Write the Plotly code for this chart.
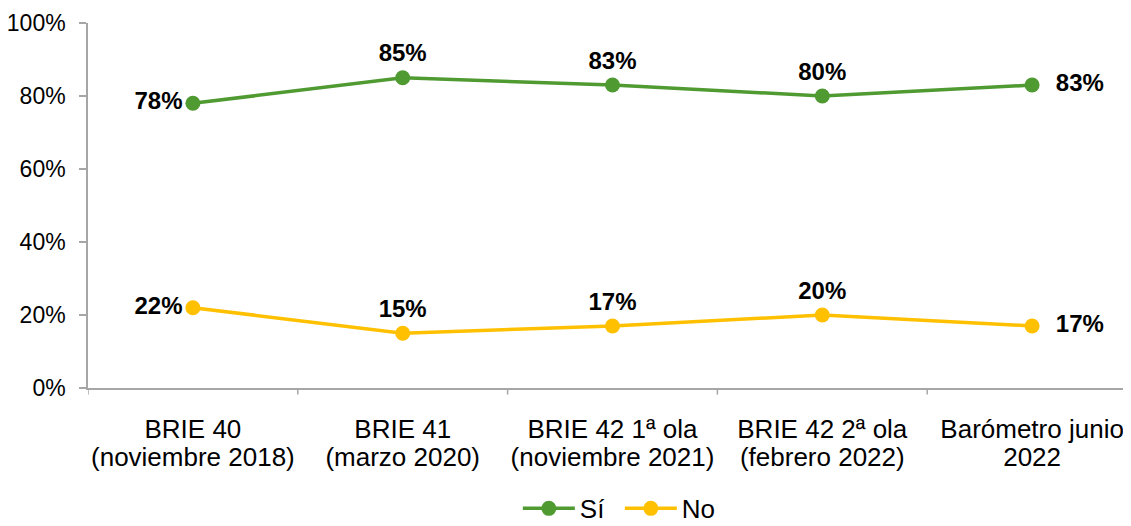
import plotly.graph_objects as go

categories_line1 = ["BRIE 40", "BRIE 41", "BRIE 42 1ª ola", "BRIE 42 2ª ola", "Barómetro junio"]
categories_line2 = ["(noviembre 2018)", "(marzo 2020)", "(noviembre 2021)", "(febrero 2022)", "2022"]
si_values = [78, 85, 83, 80, 83]
no_values = [22, 15, 17, 20, 17]
y_ticks = [0, 20, 40, 60, 80, 100]

positions = ["middle left", "top center", "top center", "top center", "middle right"]
FONT = "Liberation Sans, Arial, sans-serif"
NB = "\u00a0"


def label(v, pos):
    t = f"{v}%"
    if pos == "middle right":
        return NB * 2 + t
    return t


x = list(range(len(categories_line1)))
fig = go.Figure()
for name, vals, color in [("Sí", si_values, "#4f9a31"), ("No", no_values, "#ffc000")]:
    fig.add_trace(go.Scatter(
        x=x, y=vals, name=name, mode="lines+markers+text",
        line=dict(color=color, width=3.5),
        marker=dict(color=color, size=15),
        text=[label(v, p) for v, p in zip(vals, positions)], textposition=positions,
        textfont=dict(family=FONT, size=24, color="#000000", weight="bold"),
        cliponaxis=False,
    ))
# invisible trace to activate the second-line category axis
fig.add_trace(go.Scatter(x=x, y=si_values, xaxis="x2", mode="markers",
                         marker=dict(opacity=0), showlegend=False, hoverinfo="skip"))

fig.update_layout(
    width=1131, height=526,
    margin=dict(l=80, r=2, t=15, b=140),
    plot_bgcolor="white", paper_bgcolor="white",
    font=dict(family=FONT, size=22, color="#000000"),
    showlegend=True,
    legend=dict(orientation="h", x=0.507, xanchor="center", y=-0.33, yanchor="middle",
                font=dict(size=26), traceorder="normal", itemwidth=52,
                entrywidth=35, entrywidthmode="pixels"),
    xaxis=dict(
        range=[-0.5, 4.5], tickmode="array", tickvals=x, ticktext=categories_line1,
        showgrid=False, zeroline=False, showline=True, linecolor="#a6a6a6", linewidth=1.5,
        ticks="", tickfont=dict(size=26), automargin=False, ticklabelstandoff=17,
    ),
    xaxis2=dict(
        range=[-0.5, 4.5], tickmode="array", tickvals=x, ticktext=categories_line2,
        overlaying="x", side="bottom", anchor="free", position=0,
        showgrid=False, zeroline=False, showline=False,
        ticks="", tickfont=dict(size=26), automargin=False, ticklabelstandoff=51,
    ),
    yaxis=dict(
        range=[0, 100], tickmode="array", tickvals=y_ticks, ticktext=[f"{t}%" for t in y_ticks],
        showgrid=False, zeroline=False, showline=True, linecolor="#a6a6a6", linewidth=1.5,
        ticks="outside", ticklen=7, tickcolor="#a6a6a6", tickwidth=1.5, tickfont=dict(size=23),
        automargin=False, ticklabelstandoff=9,
    ),
)
# category boundary ticks on the x axis
for b in [-0.5, 0.5, 1.5, 2.5, 3.5]:
    fig.add_shape(type="line", xref="x", yref="paper", x0=b, x1=b, y0=0, y1=-0.018,
                  line=dict(color="#a6a6a6", width=1.5))

fig.write_html("out.html")
